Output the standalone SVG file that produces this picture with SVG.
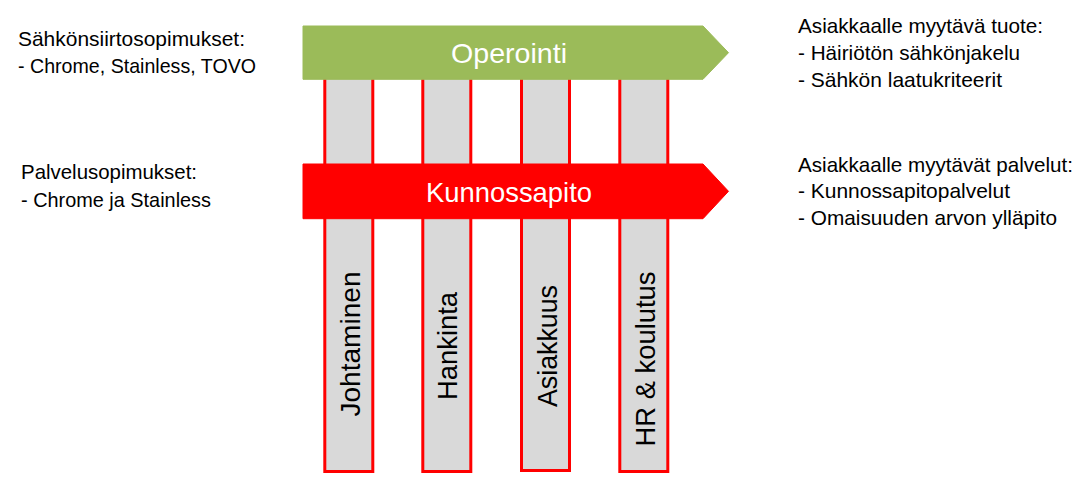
<svg xmlns="http://www.w3.org/2000/svg" width="1088" height="503" viewBox="0 0 1088 503">
<style>
.col{fill:#d9d9d9;stroke:#ff0000;stroke-width:3}
.side{font-family:"Liberation Sans",Arial,sans-serif;font-size:21px;fill:#000}
.lbl{font-family:"Liberation Sans",Arial,sans-serif;font-size:28px;fill:#fff;text-anchor:middle}
.vlbl{font-family:"Liberation Sans",Arial,sans-serif;font-size:28px;fill:#000;text-anchor:middle}
</style>
<rect width="1088" height="503" fill="#fff"/>
<g id="col-johtaminen">
<rect class="col" x="324.8" y="70" width="48" height="401.5"/>
<text class="vlbl" transform="translate(360,344) rotate(-90)" textLength="145" lengthAdjust="spacingAndGlyphs">Johtaminen</text>
</g>
<g id="col-hankinta">
<rect class="col" x="422.8" y="70" width="48" height="401.5"/>
<text class="vlbl" transform="translate(456.7,346) rotate(-90)" textLength="108" lengthAdjust="spacingAndGlyphs">Hankinta</text>
</g>
<g id="col-asiakkuus">
<rect class="col" x="521.5" y="70" width="48" height="400.5"/>
<text class="vlbl" transform="translate(556.7,346) rotate(-90)" textLength="122" lengthAdjust="spacingAndGlyphs">Asiakkuus</text>
</g>
<g id="col-hr">
<rect class="col" x="619.8" y="70" width="48" height="401.5"/>
<text class="vlbl" transform="translate(655,359) rotate(-90)" textLength="175" lengthAdjust="spacingAndGlyphs">HR &amp; koulutus</text>
</g>
<g id="arrow-operointi">
<polygon points="303,26 703,26 728.5,52.7 703,79.3 303,79.3" fill="#9bbb59" stroke="#9bbb59" stroke-width="1" stroke-linejoin="round"/>
<text class="lbl" x="509" y="62.7" textLength="116" lengthAdjust="spacingAndGlyphs">Operointi</text>
</g>
<g id="arrow-kunnossapito">
<polygon points="303,164 703,164 728.5,191.3 703,218.7 303,218.7" fill="#ff0000" stroke="#ff0000" stroke-width="1" stroke-linejoin="round"/>
<text class="lbl" x="509" y="201.7" textLength="166" lengthAdjust="spacingAndGlyphs">Kunnossapito</text>
</g>
<g id="text-sahkonsiirto">
<text class="side" x="18" y="46" textLength="227" lengthAdjust="spacingAndGlyphs">Sähkönsiirtosopimukset:</text>
<text class="side" x="18" y="72.7" textLength="238" lengthAdjust="spacingAndGlyphs">- Chrome, Stainless, TOVO</text>
</g>
<g id="text-palvelu">
<text class="side" x="21" y="179" textLength="176" lengthAdjust="spacingAndGlyphs">Palvelusopimukset:</text>
<text class="side" x="21" y="206.7" textLength="190" lengthAdjust="spacingAndGlyphs">- Chrome ja Stainless</text>
</g>
<g id="text-tuote">
<text class="side" x="798" y="33.3" textLength="245" lengthAdjust="spacingAndGlyphs">Asiakkaalle myytävä tuote:</text>
<text class="side" x="798" y="60" textLength="222" lengthAdjust="spacingAndGlyphs">- Häiriötön sähkönjakelu</text>
<text class="side" x="798" y="86.7" textLength="204" lengthAdjust="spacingAndGlyphs">- Sähkön laatukriteerit</text>
</g>
<g id="text-palvelut">
<text class="side" x="798" y="171.7" textLength="275" lengthAdjust="spacingAndGlyphs">Asiakkaalle myytävät palvelut:</text>
<text class="side" x="798" y="198.3" textLength="212" lengthAdjust="spacingAndGlyphs">- Kunnossapitopalvelut</text>
<text class="side" x="798" y="225" textLength="259" lengthAdjust="spacingAndGlyphs">- Omaisuuden arvon ylläpito</text>
</g>
</svg>
